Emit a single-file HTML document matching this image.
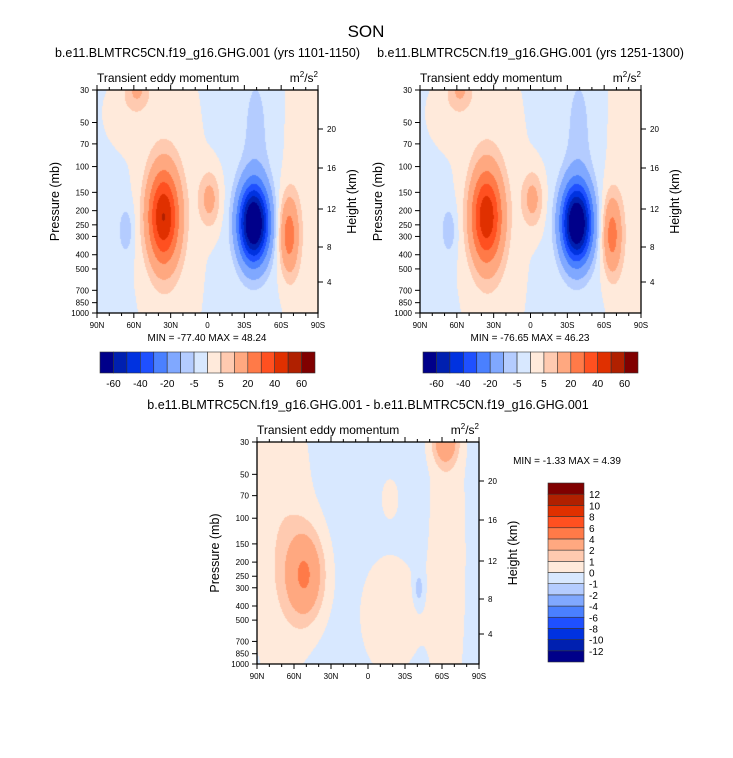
<!DOCTYPE html>
<html><head><meta charset="utf-8">
<style>
body{margin:0;background:#fff;width:733px;height:758px;overflow:hidden;font-family:"Liberation Sans",sans-serif;}
#wrap{position:relative;width:733px;height:758px;}
canvas{position:absolute;}
svg{position:absolute;left:0;top:0;}
</style></head>
<body>
<div id="wrap">
<canvas id="c1" width="221" height="223" style="left:97px;top:90px"></canvas>
<canvas id="c2" width="221" height="223" style="left:420px;top:90px"></canvas>
<canvas id="c3" width="222" height="222" style="left:257px;top:442px"></canvas>
<svg id="s" width="733" height="758"></svg>
</div>
<script>
// ---- data ----
const topLevels = [-60,-50,-40,-30,-20,-10,-5,0,5,10,20,30,40,50,60];
const diffLevels = [-12,-10,-8,-6,-4,-2,-1,0,1,2,4,6,8,10,12];
const colors = ["#00008a","#0020b0","#0032e0","#1f50ff","#4a80ff","#80a8ff","#b4ccff","#d8e8ff","#ffeadb","#ffcab0","#ffa880","#ff7a48","#ff5020","#e03000","#b02000","#800000"];
const pressureTicks = [30,50,70,100,150,200,250,300,400,500,700,850,1000];
const heightTicks = [4,8,12,16,20];
const heightTickPx = [192,157,119,78,39];
const latLabels = ["90N","60N","30N","0","30S","60S","90S"];
// panel 1 blobs (u: 0..1 left->right, v: 0..1 top->bottom log p)
const p1U   = [0.33,0.95,0.30,0.51,0.87,0.71,0.72,0.13,0.18,0.12];
const p1V   = [0.55,0.50,0.57,0.49,0.65,0.60,0.20,0.63,0.00,0.10];
const p1Amp = [4,4,48,13,25,-78,-5,-8,10,3];
const p1SU  = [0.12,0.08,0.05,0.035,0.03,0.047,0.05,0.025,0.04,0.08];
const p1SV  = [0.6,0.8,0.15,0.09,0.12,0.12,0.25,0.08,0.06,0.12];
const p1Base = -1.5;
const p2Amp = [4,4,46,13,24,-77,-5,-8,10,3];
const p3U   = [0.215,0.10,0.85,0.86,0.60,0.60,0.73];
const p3V   = [0.60,0.40,0.00,0.50,0.78,0.25,0.66];
const p3Amp = [4.2,1.2,3.5,1.0,1.0,0.8,-1.6];
const p3SU  = [0.06,0.10,0.04,0.06,0.10,0.03,0.015];
const p3SV  = [0.14,0.5,0.07,0.6,0.2,0.07,0.05];
const p3Base = -0.4;

function hex(c){return [parseInt(c.substr(1,2),16),parseInt(c.substr(3,2),16),parseInt(c.substr(5,2),16)];}
function drawField(id,U,V,A,SU,SV,base,levels){
  const cv=document.getElementById(id),ctx=cv.getContext('2d');
  const w=cv.width,h=cv.height,img=ctx.createImageData(w,h);
  for(let y=0;y<h;y++)for(let x=0;x<w;x++){
    const u=x/(w-1),v=y/(h-1);let f=base;
    for(let i=0;i<U.length;i++){const du=(u-U[i])/SU[i],dv=(v-V[i])/SV[i];f+=A[i]*Math.exp(-0.5*(du*du+dv*dv));}
    let k=0;while(k<levels.length&&f>=levels[k])k++;
    const c=hex(colors[k]),o=(y*w+x)*4;img.data[o]=c[0];img.data[o+1]=c[1];img.data[o+2]=c[2];img.data[o+3]=255;
  }
  ctx.putImageData(img,0,0);
}
drawField('c1',p1U,p1V,p1Amp,p1SU,p1SV,p1Base,topLevels);
drawField('c2',p1U,p1V,p2Amp,p1SU,p1SV,p1Base,topLevels);
drawField('c3',p3U,p3V,p3Amp,p3SU,p3SV,p3Base,diffLevels);

const S=document.getElementById('s'),NS='http://www.w3.org/2000/svg';
function el(t,a,txt){const e=document.createElementNS(NS,t);for(const k in a)e.setAttribute(k,a[k]);if(txt!==undefined)e.textContent=txt;S.appendChild(e);return e;}
function txt(x,y,s,size,anchor,name,extra){const e=el('text',Object.assign({x:x,y:y,'font-size':size,'text-anchor':anchor||'start','font-family':'Liberation Sans, sans-serif'},extra||{}),s);

return e;}
function ln(x1,y1,x2,y2,sw){return el('line',{x1:x1,y1:y1,x2:x2,y2:y2,stroke:'#000','stroke-width':sw||1});}

function axes(x0,y0,w,h,title,mm,mmx,mmy,tag){
  const yOf=p=>y0+Math.log(p/30)/Math.log(1000/30)*h;
  const r=el('rect',{x:x0,y:y0,width:w,height:h,fill:'none',stroke:'#000','stroke-width':1.3});
  
  
  txt(x0+(w/2),y0-33,title,12.5,'middle',tag+'-title');
  txt(x0,y0-8,'Transient eddy momentum',12,'start',tag+'-left-string');
  const u=txt(x0+w,y0-8,'m',12,'end',tag+'-units');
  u.innerHTML='m<tspan font-size="8" dy="-5">2</tspan><tspan dy="5">/s</tspan><tspan font-size="8" dy="-5">2</tspan>';
  pressureTicks.forEach(p=>{const y=yOf(p);ln(x0-5,y,x0,y);txt(x0-8,y+3,String(p),8,'end',tag+'-pressure-tick-label');});
  heightTickPx.forEach((py,i)=>{ln(x0+w,y0+py,x0+w+5,y0+py);txt(x0+w+9,y0+py+3,String(heightTicks[i]),8,'start',tag+'-height-tick-label');});
  for(let i=0;i<=18;i++){const x=x0+w*i/18,l=(i%3===0)?5:3;ln(x,y0+h,x,y0+h+l);ln(x,y0,x,y0-l);}
  latLabels.forEach((s,i)=>txt(x0+w*i/6,y0+h+15,s,8,'middle',tag+'-lat-label'));
  const yc=y0+h/2;
  txt(0,0,'Pressure (mb)',12.5,'middle',tag+'-y-axis-title',{transform:`translate(${x0-38},${yc}) rotate(-90)`});
  txt(0,0,'Height (km)',12.5,'middle',tag+'-right-axis-title',{transform:`translate(${x0+w+38},${yc}) rotate(-90)`});
  txt(mmx,mmy,mm,10,'middle',tag+'-min-max');
}
function hbar(x0,y0,w,h,labels,tag){
  const n=colors.length,bw=w/n;
  colors.forEach((c,i)=>{const r=el('rect',{x:x0+i*bw,y:y0,width:bw,height:h,fill:c,stroke:'#333','stroke-width':0.6});
  
  });
  labels.forEach((l,i)=>{if(i%2===0)txt(x0+(i+1)*bw,y0+h+14,String(l),10,'middle',tag+'-colorbar-label');});
}
txt(366,37,'SON',17,'middle','figure-title');
axes(97,90,221,223,'b.e11.BLMTRC5CN.f19_g16.GHG.001 (yrs 1101-1150)','MIN = -77.40  MAX =  48.24',207,341,'panel1');
axes(420,90,221,223,'b.e11.BLMTRC5CN.f19_g16.GHG.001 (yrs 1251-1300)','MIN = -76.65  MAX =  46.23',530,341,'panel2');
hbar(100,352,215,21,topLevels,'panel1');
hbar(423,352,215,21,topLevels,'panel2');
axes(257,442,222,222,'b.e11.BLMTRC5CN.f19_g16.GHG.001 - b.e11.BLMTRC5CN.f19_g16.GHG.001','MIN =  -1.33  MAX =   4.39',567,464,'diff');
(function(){const x0=548,y0=483,w=36,h=179,n=colors.length,bh=h/n;
 colors.forEach((c,i)=>{const r=el('rect',{x:x0,y:y0+(n-1-i)*bh,width:w,height:bh,fill:c,stroke:'#333','stroke-width':0.6});
 
 });
 diffLevels.forEach((l,i)=>txt(x0+w+5,y0+(n-1-i)*bh+4,String(l),10,'start','diff-colorbar-label'));
})();
</script>
</body></html>
